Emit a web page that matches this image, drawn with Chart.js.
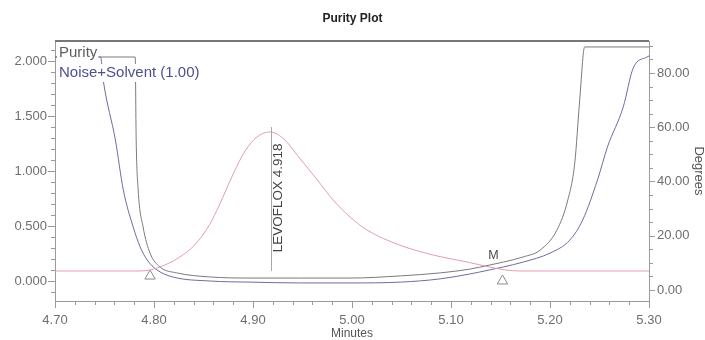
<!DOCTYPE html>
<html>
<head>
<meta charset="utf-8">
<script src="https://cdn.jsdelivr.net/npm/chart.js@4.4.1/dist/chart.umd.min.js"></script>
<style>
  html, body { margin: 0; padding: 0; background: #fff; }
  #wrap { width: 705px; height: 340px; }
</style>
</head>
<body>
<div id="wrap"><canvas id="plot"></canvas></div>
<script>
// tick labels
const xTicks = [4.70, 4.80, 4.90, 5.00, 5.10, 5.20, 5.30];
const auTicks = [0, 0.5, 1.0, 1.5, 2.0];
const degTicks = [0, 20, 40, 60, 80];

// chromatogram, AU (left axis)
const chromTime = [4.700, 4.786, 4.796, 4.811, 4.826, 4.841, 4.856, 4.866, 4.880, 4.892, 4.904, 4.917,
  4.930, 4.947, 4.965, 4.981, 4.998, 5.015, 5.048, 5.082, 5.116, 5.139, 5.155, 5.170, 5.300];
const chromAU = [0.091, 0.091, 0.100, 0.145, 0.218, 0.327, 0.510, 0.690, 0.973, 1.182, 1.309, 1.355,
  1.300, 1.118, 0.918, 0.736, 0.582, 0.464, 0.327, 0.236, 0.173, 0.127, 0.100, 0.091, 0.091];

// purity angle, degrees (right axis)
const purityTime = [4.700, 4.781, 4.782, 4.784, 4.789, 4.796, 4.806, 4.823, 4.857, 4.897, 4.948, 4.998,
  5.049, 5.089, 5.119, 5.139, 5.153, 5.173, 5.190, 5.207, 5.218, 5.225, 5.230, 5.235, 5.300];
const purityDeg = [85.9, 85.9, 55.3, 36.9, 23.2, 13.6, 8.5, 6.3, 4.8, 4.4, 4.4, 4.4,
  5.2, 6.3, 7.7, 9.2, 10.3, 12.2, 14.7, 22.1, 33.2, 46.8, 70.0, 89.6, 89.6];

// noise + solvent threshold, degrees (right axis)
const noiseTime = [4.700, 4.746, 4.749, 4.761, 4.769, 4.779, 4.786, 4.793, 4.803, 4.819, 4.857, 4.897,
  4.948, 4.998, 5.049, 5.089, 5.119, 5.139, 5.153, 5.173, 5.200, 5.220, 5.233, 5.248, 5.258, 5.274,
  5.284, 5.298, 5.300];
const noiseDeg = [85.9, 85.9, 76.7, 55.3, 36.9, 23.2, 15.9, 11.1, 7.4, 4.8, 3.3, 2.9,
  2.6, 2.6, 2.9, 4.1, 5.9, 7.4, 8.5, 10.3, 13.6, 18.4, 25.8, 40.6, 52.7, 67.5,
  81.8, 85.9, 86.3];

// peak annotation
const peakName = 'LEVOFLOX';
const peakRT = 4.918;
const peakLineAU = [0.091, 1.40];
const markTime = [4.796, 5.152];
const markAU = [0.045, 0.0];
const mergeLabel = { text: 'M', time: 5.143, au: 0.227 };

const legendItems = [
  { text: 'Purity', color: '#5e5e5e' },
  { text: 'Noise+Solvent (1.00)', color: '#4e4e92' },
];

const FONT = "'Liberation Sans', Arial, sans-serif";
Chart.defaults.font.family = FONT;

const pts = (xs, ys) => xs.map((x, i) => ({ x: x, y: ys[i] }));

const fixTicks = list => scale => { scale.ticks = list.map(v => ({ value: v })); };

// major + minor tick marks, drawn outward like the original software
const tickMarks = {
  id: 'tickMarks',
  afterDraw(chart) {
    const { ctx, chartArea: a, scales } = chart;
    ctx.save();
    ctx.strokeStyle = '#9a9a9a';
    ctx.lineWidth = 1;

    const each = (scale, minor, major, fn) => {
      const k0 = Math.ceil(scale.min / minor - 1e-6);
      const k1 = Math.floor(scale.max / minor + 1e-6);
      for (let k = k0; k <= k1; k++) {
        const v = k * minor;
        const r = v / major;
        fn(Math.round(scale.getPixelForValue(v)) + 0.5, Math.abs(r - Math.round(r)) < 1e-6);
      }
    };

    ctx.beginPath();
    each(scales.x, 0.02, 0.1, (p, big) => {
      ctx.moveTo(p, a.bottom);
      ctx.lineTo(p, a.bottom + (big ? 7 : 4));
    });
    each(scales.y, 0.1, 0.5, (p, big) => {
      ctx.moveTo(a.left, p);
      ctx.lineTo(a.left - (big ? 7 : 4), p);
    });
    each(scales.y1, 5, 20, (p, big) => {
      ctx.moveTo(a.right, p);
      ctx.lineTo(a.right + (big ? 6 : 4), p);
    });
    ctx.stroke();

    // top frame
    ctx.strokeStyle = '#777';
    ctx.lineWidth = 2;
    ctx.beginPath();
    ctx.moveTo(a.left, a.top);
    ctx.lineTo(a.right, a.top);
    ctx.stroke();
    ctx.restore();
  }
};

const annotations = {
  id: 'annotations',
  afterDatasetsDraw(chart) {
    const { ctx, scales: { x, y } } = chart;
    ctx.save();

    // retention time line + name
    const px = Math.round(x.getPixelForValue(peakRT)) + 0.5;
    ctx.strokeStyle = '#a8a8a8';
    ctx.lineWidth = 1;
    ctx.beginPath();
    ctx.moveTo(px, y.getPixelForValue(peakLineAU[0]));
    ctx.lineTo(px, y.getPixelForValue(peakLineAU[1]));
    ctx.stroke();

    ctx.translate(px + 7, y.getPixelForValue(0.755));
    ctx.rotate(-Math.PI / 2);
    ctx.fillStyle = '#444';
    ctx.font = '13.5px ' + FONT;
    ctx.textAlign = 'center';
    ctx.textBaseline = 'middle';
    ctx.fillText(peakName + ' ' + peakRT.toFixed(3), 0, 0);
    ctx.setTransform(1, 0, 0, 1, 0, 0);

    ctx.font = '12.5px ' + FONT;
    ctx.fillStyle = '#4a4a4a';
    ctx.fillText(mergeLabel.text, x.getPixelForValue(mergeLabel.time), y.getPixelForValue(mergeLabel.au));

    // legend
    ctx.font = '15px ' + FONT;
    ctx.textAlign = 'left';
    legendItems.forEach((item, i) => {
      const ty = chart.chartArea.top + 12 + i * 20;
      const w = ctx.measureText(item.text).width;
      ctx.fillStyle = '#fff';
      ctx.fillRect(chart.chartArea.left + 2, ty - 9, w + 3, 18);
      ctx.fillStyle = item.color;
      ctx.fillText(item.text, chart.chartArea.left + 4, ty);
    });
    ctx.restore();
  }
};

const lineSet = (label, data, color, axis) => ({
  label: label,
  data: data,
  yAxisID: axis,
  showLine: true,
  borderColor: color,
  borderWidth: 1,
  pointRadius: 0,
  cubicInterpolationMode: 'monotone',
});

const tickFont = { size: 13 };
const tickColor = '#6e6e6e';

new Chart(document.getElementById('plot'), {
  type: 'scatter',
  data: {
    datasets: [
      lineSet('Chromatogram', pts(chromTime, chromAU), 'rgb(226, 156, 176)', 'y'),
      lineSet('Noise+Solvent', pts(noiseTime, noiseDeg), '#6c6ca2', 'y1'),
      lineSet('Purity', pts(purityTime, purityDeg), '#7a7a7a', 'y1'),
      {
        label: 'Peak marks',
        data: pts(markTime, markAU),
        yAxisID: 'y',
        pointStyle: 'triangle',
        pointRadius: 6,
        borderColor: '#8a8a8a',
        borderWidth: 1,
        backgroundColor: 'rgba(255,255,255,0)',
      },
    ]
  },
  options: {
    responsive: true,
    maintainAspectRatio: false,
    animation: false,
    layout: { padding: 0 },
    plugins: {
      legend: { display: false },
      tooltip: { enabled: false },
      title: {
        display: true,
        text: 'Purity Plot',
        color: '#222',
        font: { size: 12, weight: 'bold', lineHeight: 1.2 },
        padding: { top: 11, bottom: 15.6 },
      },
    },
    scales: {
      x: {
        type: 'linear',
        min: 4.70,
        max: 5.30,
        afterBuildTicks: fixTicks(xTicks),
        afterFit: s => { s.height = 39; },
        grid: { display: false, drawTicks: false },
        border: { color: '#9a9a9a' },
        ticks: { color: tickColor, font: tickFont, padding: 12, callback: v => v.toFixed(2) },
        title: { display: true, text: 'Minutes', color: '#555', font: { size: 12, lineHeight: 1 }, padding: 0 },
      },
      y: {
        type: 'linear',
        position: 'left',
        min: -0.182,
        max: 2.182,
        afterBuildTicks: fixTicks(auTicks),
        afterFit: s => { s.width = 55; },
        grid: { display: false, drawTicks: false },
        border: { color: '#9a9a9a' },
        ticks: { color: tickColor, font: tickFont, padding: 8, callback: v => v.toFixed(3) },
      },
      y1: {
        type: 'linear',
        position: 'right',
        min: -4.06,
        max: 91.8,
        afterBuildTicks: fixTicks(degTicks),
        afterFit: s => { s.width = 56; },
        grid: { display: false, drawTicks: false },
        border: { color: '#9a9a9a' },
        ticks: { color: tickColor, font: tickFont, padding: 8, callback: v => v.toFixed(2) },
        title: { display: true, text: 'Degrees', color: '#555', font: { size: 13, lineHeight: 1 }, padding: 0 },
      },
    }
  },
  plugins: [tickMarks, annotations]
});
</script>
</body>
</html>
